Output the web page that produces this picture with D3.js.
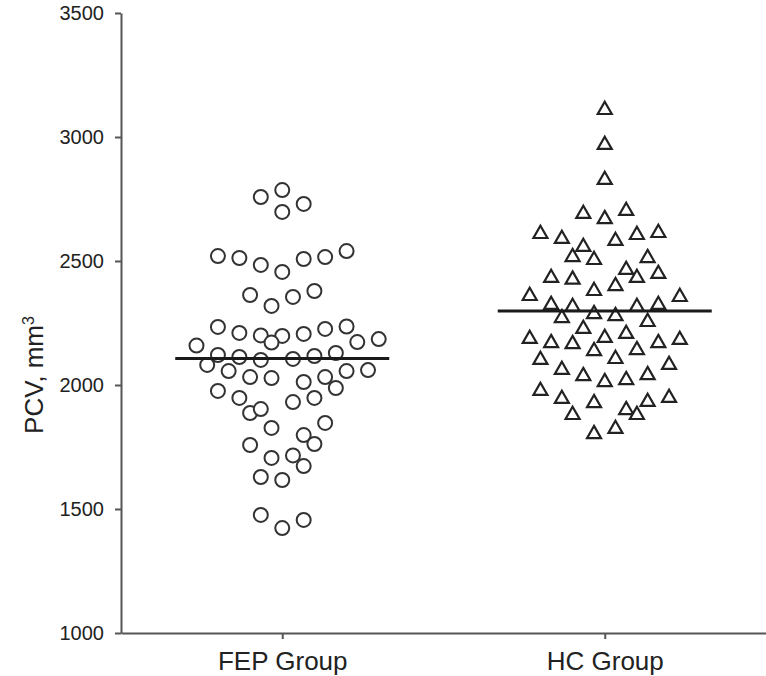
<!DOCTYPE html>
<html>
<head>
<meta charset="utf-8">
<script src="https://cdn.jsdelivr.net/npm/d3@7/dist/d3.min.js"></script>
<style>
  html, body { margin: 0; padding: 0; background: #fff; }
  svg { display: block; }
  text { font-family: "Liberation Sans", Arial, sans-serif; fill: #222; }
</style>
</head>
<body>
<svg id="chart" width="766" height="676"></svg>
<script>
// ---- data ----
const categories = ["FEP Group", "HC Group"];

// FEP group: PCV values and their beeswarm column (horizontal jitter index)
const fepValues = [2758, 2786, 2730, 2698, 2520, 2512, 2484, 2456, 2508, 2516,
  2540, 2363, 2319, 2355, 2379, 2234, 2210, 2200, 2198, 2206,
  2226, 2236, 2173, 2185, 2159, 2171, 2121, 2113, 2101, 2105,
  2117, 2129, 2081, 2056, 2032, 2028, 2012, 2032, 2056, 2060,
  1988, 1976, 1948, 1931, 1948, 1887, 1903, 1847, 1827, 1798,
  1762, 1758, 1706, 1716, 1673, 1629, 1617, 1476, 1423, 1456];
const fepCols = [-2, 0, 2, 0, -6, -4, -2, 0, 2, 4,
  6, -3, -1, 1, 3, -6, -4, -2, 0, 2,
  4, 6, 7, 9, -8, -1, -6, -4, -2, 1,
  3, 5, -7, -5, -3, -1, 2, 4, 6, 8,
  5, -6, -4, 1, 3, -3, -2, 4, -1, 2,
  3, -3, -1, 1, 2, -2, 0, -2, 0, 2];

// HC group
const hcValues = [3117, 2976, 2835, 2698, 2677, 2710, 2617, 2597, 2565, 2524,
  2512, 2589, 2613, 2621, 2520, 2472, 2440, 2456, 2440, 2433,
  2387, 2407, 2367, 2331, 2323, 2294, 2286, 2323, 2331, 2363,
  2278, 2262, 2234, 2198, 2214, 2194, 2177, 2173, 2145, 2149,
  2177, 2190, 2109, 2113, 2069, 2044, 2020, 2028, 2048, 2089,
  1984, 1952, 1935, 1907, 1887, 1940, 1956, 1887, 1810, 1831];
const hcCols = [0, 0, 0, -2, 0, 2, -6, -4, -2, -3,
  -1, 1, 3, 5, 4, 2, 3, 5, -5, -3,
  -1, 1, -7, -5, -3, -1, 1, 3, 5, 7,
  -4, 4, -2, 0, 2, -7, -5, -3, -1, 3,
  5, 7, -6, 1, -4, -2, 0, 2, 4, 6,
  -6, -4, -1, 2, 3, 4, 6, -3, -1, 1];

const groupMeans = [2107, 2298];
const yTicks = [1000, 1500, 2000, 2500, 3000, 3500];
const yLabel = "PCV, mm";
const yLabelSup = "3";

// ---- layout ----
const svg = d3.select("#chart");
const mLeft = 121, mRight = 766, mTop = 13, mBottom = 633;

const x = d3.scalePoint().domain(categories).range([mLeft, mRight]).padding(0.5);
const y = d3.scaleLinear().domain([1000, 3500]).range([mBottom, mTop]);
const jitter = d3.scaleLinear().domain([-1, 1]).range([-10.72, 10.72]);
const meanHalf = d3.scaleLinear().domain([-1, 1]).range([-107, 107]);

// axes
const yAxis = d3.axisLeft(y).tickValues(yTicks).tickFormat(d3.format("d"))
  .tickSize(6).tickSizeOuter(0).tickPadding(11);
const gy = svg.append("g").attr("transform", `translate(${mLeft},0)`).call(yAxis);
gy.selectAll("text").style("font-size", "20px").attr("fill", "#222");

const xAxis = d3.axisBottom(x).tickSize(6).tickSizeOuter(0).tickPadding(13);
const gx = svg.append("g").attr("transform", `translate(0,${mBottom})`).call(xAxis);
gx.selectAll("text").style("font-size", "26px").attr("fill", "#222");

[gx, gy].forEach(g => {
  g.select(".domain").attr("stroke", "#555").attr("stroke-width", 2);
  g.selectAll(".tick line").attr("stroke", "#555").attr("stroke-width", 2);
});

// y label
const yl = svg.append("text")
  .attr("transform", `translate(43,${y(2000) - 10}) rotate(-90)`)
  .attr("text-anchor", "middle")
  .style("font-size", "26px");
yl.append("tspan").text(yLabel);
yl.append("tspan").text(yLabelSup).attr("dy", "-0.55em").style("font-size", "16px");

// FEP circles
const fep = fepValues.map((v, i) => ({ v, c: fepCols[i] }));
svg.append("g").selectAll("circle").data(fep).join("circle")
  .attr("cx", d => x(categories[0]) + jitter(d.c))
  .attr("cy", d => y(d.v))
  .attr("r", 7)
  .attr("fill", "#fff")
  .attr("stroke", "#333")
  .attr("stroke-width", 2);

// HC triangles
const hc = hcValues.map((v, i) => ({ v, c: hcCols[i] }));
const tri = "M0,-6.2L7,6L-7,6Z";
svg.append("g").selectAll("path").data(hc).join("path")
  .attr("d", tri)
  .attr("transform", d => `translate(${x(categories[1]) + jitter(d.c)},${y(d.v)})`)
  .attr("fill", "#fff")
  .attr("stroke", "#222")
  .attr("stroke-width", 2.2)
  .attr("stroke-linejoin", "miter");

// mean lines
svg.append("g").selectAll("line").data(groupMeans).join("line")
  .attr("x1", (d, i) => x(categories[i]) + meanHalf(-1))
  .attr("x2", (d, i) => x(categories[i]) + meanHalf(1))
  .attr("y1", d => y(d))
  .attr("y2", d => y(d))
  .attr("stroke", "#1a1a1a")
  .attr("stroke-width", 3);
</script>
</body>
</html>
